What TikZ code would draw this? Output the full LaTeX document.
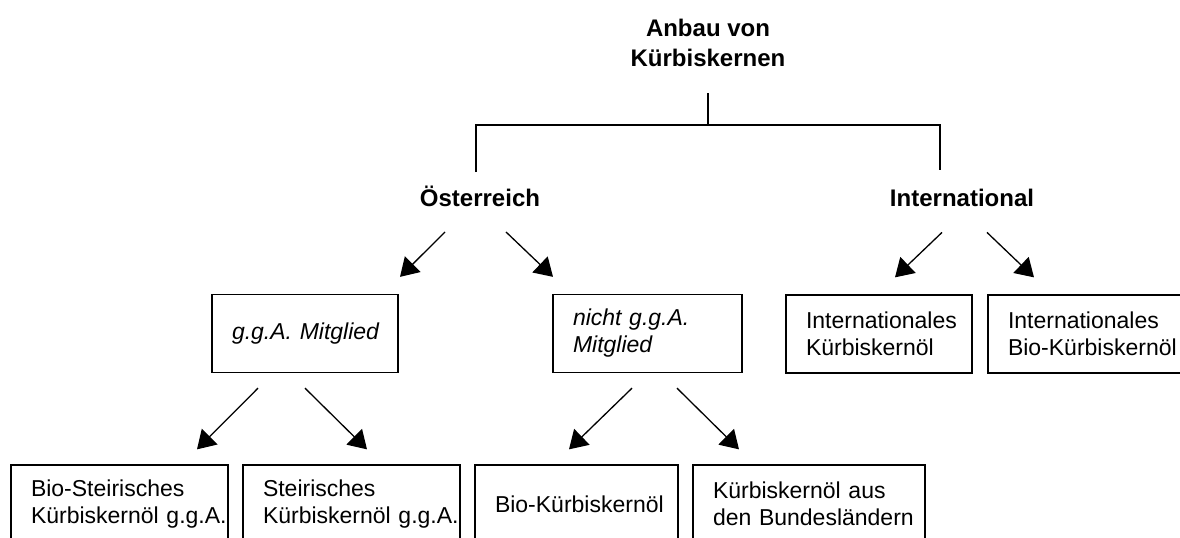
\documentclass[tikz,border=0pt]{standalone}
\usepackage{fontspec}
\setmainfont{Liberation Sans}
\usetikzlibrary{arrows.meta,calc}

\begin{document}
\begin{tikzpicture}[x=0.5pt, y=-0.5pt, line width=0.6pt,
		box/.style={draw, line width=0.65pt, minimum height=39pt, inner xsep=0pt,
			align=left, execute at begin node={\leftskip=10pt},
			font=\fontsize{11.5}{13.5}\selectfont},
		region/.style={font=\bfseries\fontsize{12}{15}\selectfont, inner ysep=6.5pt},
		arr/.style={-{Triangle[length=9pt,width=11pt]}, line width=0.65pt}]
	\clip (0,0) rectangle (1180,537);
	\node[region, align=center, inner ysep=13pt] (top) at (708,43) {Anbau von\\Kürbiskernen};
	\coordinate (fork) at (708,125);
	\node[region] (at) at (480,196) {Österreich};
	\node[region] (int) at (962,198) {International};
	\draw (top) -- (fork);
	\draw ($(at.north)+(-4,0)$) |- (fork) -| ($(int.north)+(-22,-6)$);
	% second row
	\node[box, text width=93pt, font=\itshape\fontsize{11.5}{13.5}\selectfont] (gga) at (305,333.5) {g.g.A. Mitglied};
	\node[box, text width=94.5pt, font=\itshape\fontsize{11.5}{13.5}\selectfont] (nicht) at (647.5,333.5) {nicht g.g.A.\\Mitglied};
	\node[box, text width=93pt] (intl) at (879,334) {Internationales\\Kürbiskernöl};
	\node[box, text width=105pt] (intlbio) at (1093,334) {Internationales\\Bio-Kürbiskernöl};
	\draw[arr] ($(at.south)+(-35,12)$) -- ($(gga.north)+(95,-17)$);
	\draw[arr] ($(at.south)+(26,12)$) -- ($(nicht.north)+(-94.5,-17)$);
	\draw[arr] ($(int.south)+(-20,12)$) -- ($(intl.north)+(16,-17)$);
	\draw[arr] ($(int.south)+(25,12)$) -- ($(intlbio.north)+(-59,-17)$);
	% third row
	\node[box, text width=108.5pt] (bsteir) at (119.5,504) {Bio-Steirisches\\Kürbiskernöl g.g.A.};
	\node[box, text width=108.5pt] (steir) at (351.5,504) {Steirisches\\Kürbiskernöl g.g.A.};
	\node[box, text width=101.5pt] (bio) at (576.5,504) {Bio-Kürbiskernöl};
	\node[box, text width=116pt] (bund) at (809,504) {Kürbiskernöl aus\\den Bundesländern};
	\draw[arr] ($(gga.south)+(-47,15)$) -- ($(bsteir.north)+(77.5,-15)$);
	\draw[arr] ($(gga.south)+(0,15)$) -- ($(steir.north)+(15.5,-15)$);
	\draw[arr] ($(nicht.south)+(-15.5,15)$) -- ($(bio.north)+(-7.5,-15)$);
	\draw[arr] ($(nicht.south)+(29.5,15)$) -- ($(bund.north)+(-70,-15)$);
\end{tikzpicture}
\end{document}
